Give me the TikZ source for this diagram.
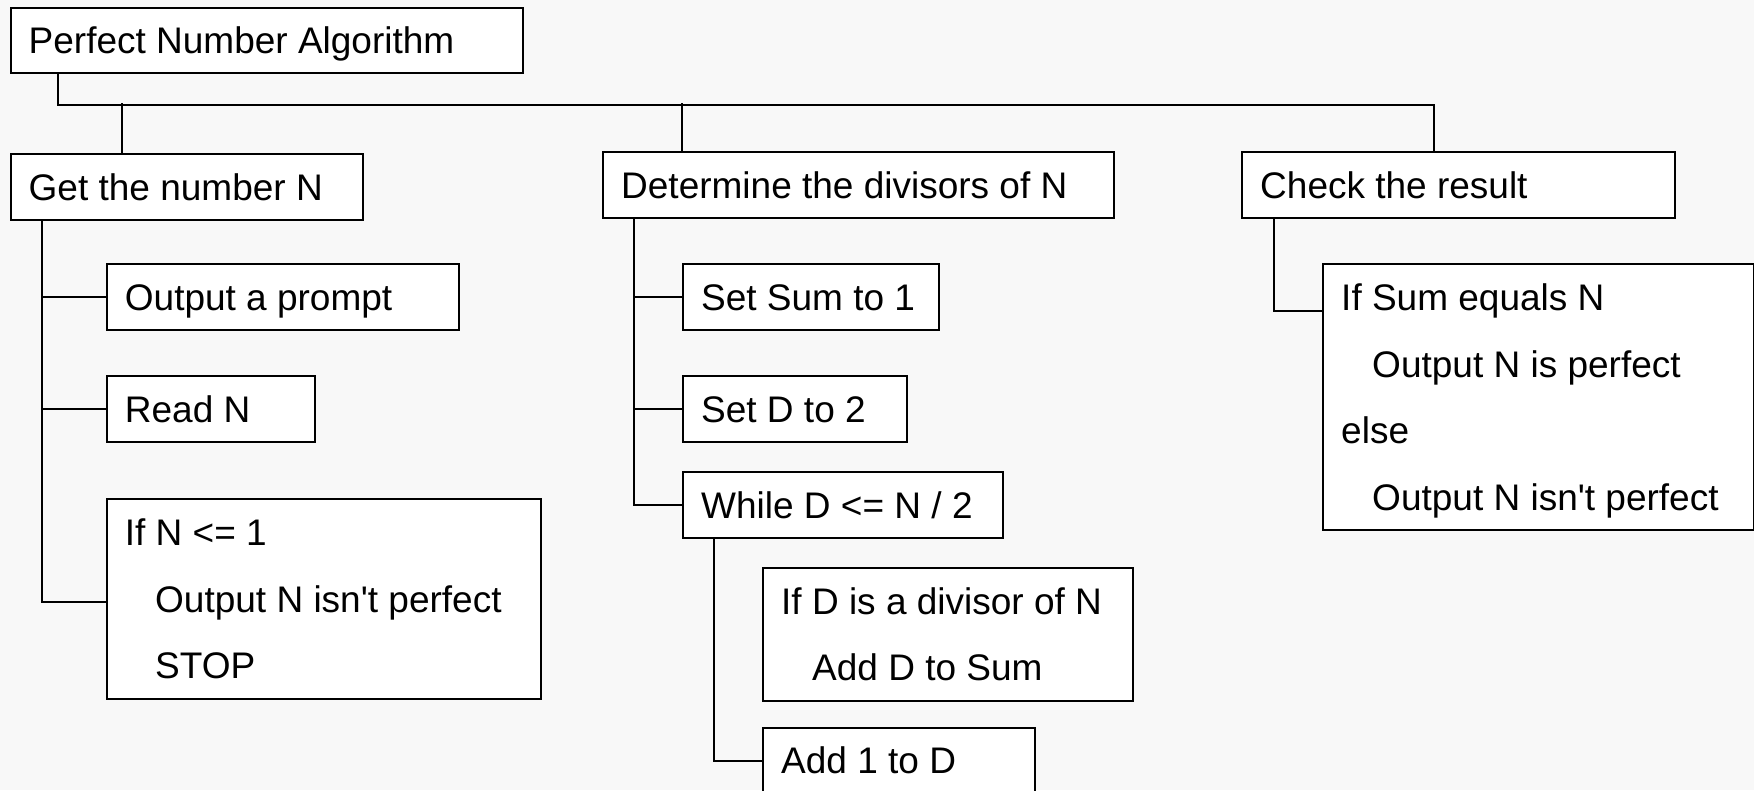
\documentclass[tikz,border=0pt]{standalone}
\usepackage{fontspec}
\newfontfamily\lsans{Liberation Sans}
\usetikzlibrary{calc}
\definecolor{bg}{HTML}{F8F8F8}
\begin{document}
\begin{tikzpicture}[x=1pt,y=-1pt,
  box/.style={draw=black, fill=white, line width=2pt, inner sep=0pt, anchor=north west},
  txt/.style={anchor=base west, inner sep=0pt, font=\lsans\fontsize{37}{44}\selectfont},
  conn/.style={line width=2pt, line cap=butt}]
\fill[bg] (0,0) rectangle (1754,790);
\useasboundingbox (0,0) rectangle (1754,790);
% boxes
\node[box, minimum width=512.5pt, minimum height=65pt] (title) at (9.5,7) {};
\node[box, minimum width=352.5pt, minimum height=66pt] (get) at (9.5,153) {};
\node[box, minimum width=511pt, minimum height=66pt] (det) at (602,151) {};
\node[box, minimum width=433pt, minimum height=66pt] (check) at (1241,151) {};
\node[box, minimum width=352.3pt, minimum height=66pt] (prompt) at (105.7,263) {};
\node[box, minimum width=208.3pt, minimum height=66pt] (readn) at (105.7,375) {};
\node[box, minimum width=434.3pt, minimum height=200pt] (ifn) at (105.7,498) {};
\node[box, minimum width=256pt, minimum height=66pt] (setsum) at (682,263) {};
\node[box, minimum width=224pt, minimum height=66pt] (setd) at (682,375) {};
\node[box, minimum width=320pt, minimum height=66pt] (while) at (682,471) {};
\node[box, minimum width=370pt, minimum height=133pt] (ifd) at (762,567) {};
\node[box, minimum width=272pt, minimum height=66pt] (addone) at (762,727) {};
\node[box, minimum width=431pt, minimum height=266pt] (ifsum) at (1322,263) {};
% texts
\node[txt] (t1) at (28.5,53) {Perfect Number Algorithm};
\node[txt] (t2) at (28.5,200) {Get the number N};
\node[txt] (t3) at (621,198) {Determine the divisors of N};
\node[txt] (t4) at (1260,198) {Check the result};
\node[txt] (t5) at (124.7,310) {Output a prompt};
\node[txt] (t6) at (124.7,422) {Read N};
\node[txt] (t7a) at (124.7,545) {If N <= 1};
\node[txt] (t7b) at (155,612) {Output N isn't perfect};
\node[txt] (t7c) at (155,678) {STOP};
\node[txt] (t8) at (701,310) {Set Sum to 1};
\node[txt] (t9) at (701,422) {Set D to 2};
\node[txt] (t10) at (701,518) {While D <= N / 2};
\node[txt] (t11a) at (781,614) {If D is a divisor of N};
\node[txt] (t11b) at (812,680.7) {Add D to Sum};
\node[txt] (t12) at (781,773) {Add 1 to D};
\node[txt] (t13a) at (1341,310) {If Sum equals N};
\node[txt] (t13b) at (1372,377) {Output N is perfect};
\node[txt] (t13c) at (1341,443) {else};
\node[txt] (t13d) at (1372,510) {Output N isn't perfect};
% connectors
\draw[conn] ($(title.south west)+(48.5,0)$) -- ++(0,31) -| ($(check.north west)+(193,0)$);
\draw[conn] ($(get.north west)+(112.5,0)$) -- ++(0,-50);
\draw[conn] ($(det.north west)+(80,0)$) -- ++(0,-48);
\coordinate (gt) at ($(get.south west)+(32.5,0)$);
\draw[conn] (gt) |- ($(ifn.north west)+(0,104)$);
\draw[conn] (prompt.west) -- (prompt.west -| gt);
\draw[conn] (readn.west) -- (readn.west -| gt);
\coordinate (dt) at ($(det.south west)+(32,0)$);
\draw[conn] (dt) |- (while.west);
\draw[conn] (setsum.west) -- (setsum.west -| dt);
\draw[conn] (setd.west) -- (setd.west -| dt);
\coordinate (wt) at ($(while.south west)+(32,0)$);
\draw[conn] (wt) |- (addone.west);
\draw[conn] ($(ifd.north west)+(0,48)$) -- ($(ifd.north west)+(0,48)$ -| wt);
\coordinate (ct) at ($(check.south west)+(33,0)$);
\draw[conn] (ct) |- ($(ifsum.north west)+(0,48)$);
\end{tikzpicture}
\end{document}
